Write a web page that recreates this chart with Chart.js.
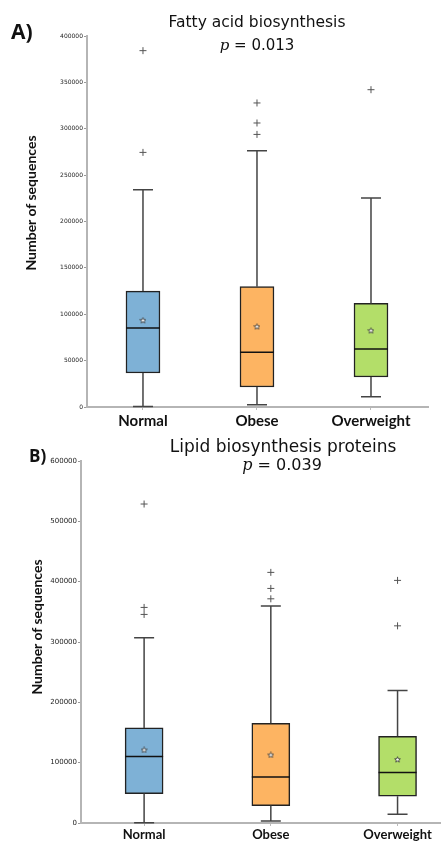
<!DOCTYPE html>
<html>
<head>
<meta charset="utf-8">
<script src="https://cdn.jsdelivr.net/npm/chart.js@4"></script>
<style>
  body { margin: 0; background: #fff; width: 445px; height: 841px; position: relative; overflow: hidden; }
  canvas { position: absolute; left: 0; }
  .txt { position: absolute; white-space: nowrap; color: #111; }
  .tag { font-family: 'Open Sans'; font-weight: bold; }
  .title { font-family: 'DejaVu Sans'; transform: translateX(-50%); }
  .title i { font-family: 'DejaVu Serif'; }
  .ylab { font-family: Lato; font-weight: bold; font-size: 14px; line-height: 14px; transform: translate(-50%, -50%) rotate(-90deg); }
</style>
</head>
<body>
<canvas id="chartA" width="445" height="432" style="top:0"></canvas>
<canvas id="chartB" width="445" height="416" style="top:425px"></canvas>

<div class="txt tag" style="left:11px;top:21px;font-size:21px;line-height:21px">A)</div>
<div class="txt title" style="left:257px;top:15px;font-size:15.5px;line-height:15.5px">Fatty acid biosynthesis</div>
<div class="txt title" style="left:257px;top:38px;font-size:15px;line-height:15px"><i>p</i> = 0.013</div>
<div class="txt ylab" style="left:31px;top:203px">Number of sequences</div>

<div class="txt tag" style="left:29px;top:447px;font-size:17px;line-height:17px">B)</div>
<div class="txt title" style="left:283px;top:438px;font-size:17px;line-height:17px">Lipid biosynthesis proteins</div>
<div class="txt title" style="left:282px;top:457px;font-size:16px;line-height:16px"><i>p</i> = 0.039</div>
<div class="txt ylab" style="left:37px;top:627px">Number of sequences</div>

<script>
const categories = ['Normal', 'Obese', 'Overweight'];

// A) Fatty acid biosynthesis
const faLow = [500, 2500, 11000];
const faQ1 = [36700, 21600, 32300];
const faMedian = [85200, 58900, 62500];
const faQ3 = [125000, 129700, 111700];
const faHigh = [234300, 276300, 225300];
const faMean = [93400, 86600, 82300];
const faOutliers = [[274500, 384200], [293900, 306200, 327800], [342100]];
const faTicks = [0, 50000, 100000, 150000, 200000, 250000, 300000, 350000, 400000];

// B) Lipid biosynthesis proteins
const lpLow = [500, 3300, 14400];
const lpQ1 = [48800, 28900, 44300];
const lpMedian = [110100, 76300, 83600];
const lpQ3 = [157600, 165400, 143800];
const lpHigh = [306900, 359500, 219600];
const lpMean = [121000, 112800, 105200];
const lpOutliers = [[345700, 357300, 528700], [371600, 388800, 415400], [326800, 402100]];
const lpTicks = [0, 100000, 200000, 300000, 400000, 500000, 600000];

const boxColors = ['#7eb1d6', '#fdb462', '#b3de69'];
const statsById = {};

function starImage() {
  const c = document.createElement('canvas');
  c.width = 7; c.height = 7;
  const g = c.getContext('2d');
  g.beginPath();
  for (let i = 0; i < 10; i++) {
    const r = i % 2 === 0 ? 3 : 1.3;
    const a = -Math.PI / 2 + i * Math.PI / 5;
    g.lineTo(3.5 + r * Math.cos(a), 3.7 + r * Math.sin(a));
  }
  g.closePath();
  g.fillStyle = '#fff';
  g.fill();
  g.strokeStyle = '#333';
  g.lineWidth = 0.8;
  g.stroke();
  return c;
}

const whiskerPlugin = {
  id: 'whiskers',
  afterDatasetDraw(chart, args) {
    if (args.index !== 0) return;
    const st = statsById[chart.canvas.id];
    const x = chart.scales.x, y = chart.scales.y;
    const ctx = chart.ctx;
    ctx.save();
    st.low.forEach((lo, i) => {
      const cx = x.getPixelForValue(i);
      const half = st.boxWidth / 2;
      ctx.lineWidth = 1.5;
      ctx.strokeStyle = '#444';
      ctx.beginPath();
      ctx.moveTo(cx, y.getPixelForValue(st.q3[i]));
      ctx.lineTo(cx, y.getPixelForValue(st.high[i]));
      ctx.moveTo(cx - 10, y.getPixelForValue(st.high[i]));
      ctx.lineTo(cx + 10, y.getPixelForValue(st.high[i]));
      ctx.moveTo(cx, y.getPixelForValue(st.q1[i]));
      ctx.lineTo(cx, y.getPixelForValue(lo));
      ctx.moveTo(cx - 10, y.getPixelForValue(lo));
      ctx.lineTo(cx + 10, y.getPixelForValue(lo));
      ctx.stroke();
      ctx.strokeStyle = '#111';
      ctx.beginPath();
      ctx.moveTo(cx - half, y.getPixelForValue(st.median[i]));
      ctx.lineTo(cx + half, y.getPixelForValue(st.median[i]));
      ctx.stroke();
    });
    ctx.restore();
  }
};

function makeBoxChart(id, s, opt) {
  statsById[id] = Object.assign({ boxWidth: opt.boxWidth }, s);
  const boxes = categories.map((c, i) => ({ x: i, y: [s.q1[i], s.q3[i]] }));
  const means = categories.map((c, i) => ({ x: i, y: s.mean[i] }));
  const outs = [];
  s.outliers.forEach((list, i) => list.forEach(v => outs.push({ x: i, y: v })));

  return new Chart(document.getElementById(id), {
    type: 'bar',
    data: {
      datasets: [
        {
          data: boxes,
          backgroundColor: boxColors,
          borderColor: '#222',
          borderWidth: 1.5,
          borderSkipped: false,
          barThickness: opt.boxWidth,
          order: 3
        },
        {
          type: 'scatter',
          data: outs,
          pointStyle: 'cross',
          radius: 3.5,
          borderColor: '#555',
          borderWidth: 1,
          order: 2
        },
        {
          type: 'scatter',
          data: means,
          pointStyle: starImage(),
          radius: 3,
          order: 1
        }
      ]
    },
    options: {
      responsive: false,
      animation: false,
      events: [],
      layout: { padding: { top: 36, right: opt.padRight, left: 0, bottom: 0 } },
      plugins: { legend: { display: false }, tooltip: { enabled: false } },
      scales: {
        x: {
          type: 'linear',
          offset: false,
          min: opt.xMin,
          max: opt.xMax,
          afterFit: sc => { sc.height = opt.xHeight; },
          afterBuildTicks: sc => { sc.ticks = categories.map((c, i) => ({ value: i })); },
          grid: { display: true, drawOnChartArea: false, offset: false, tickLength: 3, color: '#bbb' },
          border: { color: '#b5b5b5', width: 2 },
          ticks: {
            autoSkip: false,
            maxRotation: 0,
            padding: opt.labelPad,
            color: '#111',
            font: { family: 'Lato', weight: 'bold', size: opt.labelSize },
            callback: v => categories[v]
          }
        },
        y: {
          min: 0,
          max: s.ticks[s.ticks.length - 1],
          afterFit: sc => { sc.width = opt.left; },
          afterBuildTicks: sc => { sc.ticks = s.ticks.map(v => ({ value: v })); },
          grid: { display: true, drawOnChartArea: false, tickLength: 3, color: '#999' },
          border: { color: '#b5b5b5', width: 2 },
          ticks: {
            padding: 1,
            color: '#222',
            font: { family: 'DejaVu Sans', size: opt.tickSize },
            callback: v => String(v)
          }
        }
      }
    },
    plugins: [whiskerPlugin]
  });
}

makeBoxChart('chartA',
  { low: faLow, q1: faQ1, median: faMedian, q3: faQ3, high: faHigh, mean: faMean, outliers: faOutliers, ticks: faTicks },
  { left: 87, padRight: 17, xMin: -0.491, xMax: 2.5, xHeight: 25, boxWidth: 34, labelSize: 15, labelPad: 2, tickSize: 6 });

makeBoxChart('chartB',
  { low: lpLow, q1: lpQ1, median: lpMedian, q3: lpQ3, high: lpHigh, mean: lpMean, outliers: lpOutliers, ticks: lpTicks },
  { left: 81, padRight: 0, xMin: -0.498, xMax: 2.335, xHeight: 18, boxWidth: 38, labelSize: 13, labelPad: 1, tickSize: 7 });
</script>
</body>
</html>
